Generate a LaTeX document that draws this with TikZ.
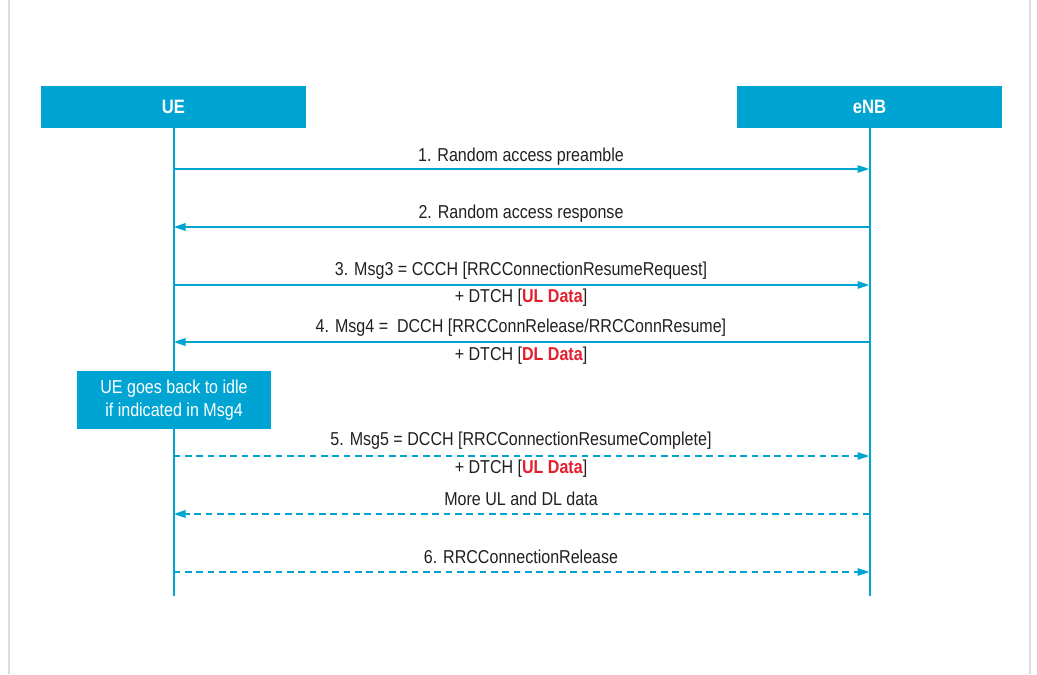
\documentclass[tikz,border=0pt]{standalone}
\usepackage{fontspec}
\setmainfont[FakeStretch=0.86]{Liberation Sans}
\usetikzlibrary{positioning, arrows.meta}

\definecolor{lteblue}{HTML}{00A4D3}
\definecolor{ltered}{HTML}{E31E2D}
\definecolor{txtgray}{HTML}{231F20}
\definecolor{framegray}{HTML}{D9DDDD}

\begin{document}
\begin{tikzpicture}[
    x=0.75pt, y=-0.75pt,
    entity/.style={rectangle, fill=lteblue, text=white, minimum width=198.75pt, minimum height=31.5pt, font=\fontsize{14.5}{16}\selectfont\bfseries},
    note/.style={rectangle, fill=lteblue, text=white, minimum width=145.5pt, minimum height=43.5pt, align=center, font=\fontsize{14}{17.5}\selectfont},
    lbl/.style={text=txtgray, font=\fontsize{14}{16}\selectfont, inner sep=0pt},
    life/.style={draw=lteblue, line width=1.5pt},
    msg/.style={draw=lteblue, line width=1.5pt, -{Triangle[length=9pt, width=5.5pt]}},
    optmsg/.style={msg, dash pattern=on 5pt off 3.5pt}
]
\useasboundingbox (0,0) rectangle (1037,674);

% Frame
\draw[framegray, line width=1.5pt] (9,0) -- (9,674);
\draw[framegray, line width=1.5pt] (1030,0) -- (1030,674);

% Entities
\node[entity] (UE) at (173.5,107) {UE};
\node[entity] (eNB) at (869.5,107) {eNB};

% Lifelines
\coordinate (End) at (0,596);
\draw[life] (UE.south) -- (UE.south |- End);
\draw[life] (eNB.south) -- (eNB.south |- End);

% Message rows
\coordinate (M1) at (0,169);
\coordinate (M2) at (0,227);
\coordinate (M3) at (0,285);
\coordinate (M4) at (0,342);
\coordinate (M5) at (0,456);
\coordinate (M6) at (0,514);
\coordinate (M7) at (0,572);

% Messages
\draw[msg] (UE.south |- M1) -- (eNB.south |- M1);
\draw[msg] (eNB.south |- M2) -- (UE.south |- M2);
\draw[msg] (UE.south |- M3) -- (eNB.south |- M3);
\draw[msg] (eNB.south |- M4) -- (UE.south |- M4);
\draw[optmsg] (UE.south |- M5) -- (eNB.south |- M5);
\draw[optmsg] (eNB.south |- M6) -- (UE.south |- M6);
\draw[optmsg] (UE.south |- M7) -- (eNB.south |- M7);

% Labels
\node[lbl] (L1) at (521,157) {1. Random access preamble};
\node[lbl] (L2) at (521,214) {2. Random access response};
\node[lbl] (L3) at (521,271) {3. Msg3 = CCCH [RRCConnectionResumeRequest]};
\node[lbl] (L3b) at (521,298) {+ DTCH [\textcolor{ltered}{\bfseries UL Data}]};
\node[lbl] (L4) at (521,328) {4. Msg4 =\ \ DCCH [RRCConnRelease/RRCConnResume]};
\node[lbl] (L4b) at (521,356) {+ DTCH [\textcolor{ltered}{\bfseries DL Data}]};
\node[lbl] (L5) at (521,441) {5. Msg5 = DCCH [RRCConnectionResumeComplete]};
\node[lbl] (L5b) at (521,469) {+ DTCH [\textcolor{ltered}{\bfseries UL Data}]};
\node[lbl] (L6) at (521,499) {More UL and DL data};
\node[lbl] (L7) at (521,557) {6. RRCConnectionRelease};

% Note
\node[note] (Idle) at (174,400) {UE goes back to idle\\if indicated in Msg4};

\end{tikzpicture}
\end{document}
